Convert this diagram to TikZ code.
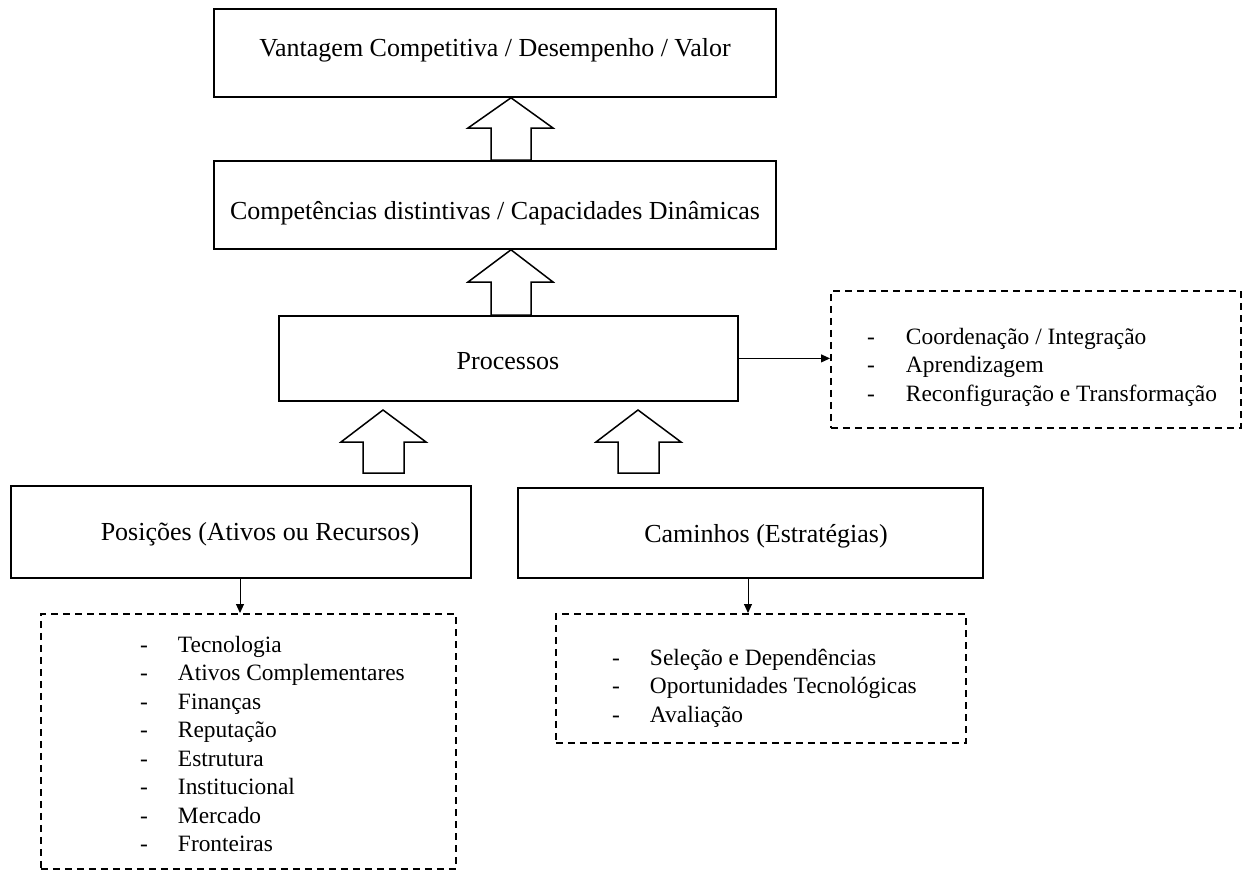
\documentclass[tikz,border=0pt]{standalone}
\usepackage{fontspec}
\setmainfont{Liberation Serif}
\usetikzlibrary{arrows.meta}
\begin{document}
\begin{tikzpicture}[x=1pt,y=-1pt,
  solidbox/.style={draw,line width=1.8pt,anchor=north west,inner sep=0pt},
  dashbox/.style={draw,line width=1.5pt,dash pattern=on 7pt off 5pt,anchor=north west,inner sep=0pt},
  maintext/.style={font=\fontsize{26}{30}\selectfont,anchor=base,inner sep=0pt},
  listtext/.style={font=\fontsize{23.4}{28.5}\selectfont,anchor=base west,inner sep=0pt},
  blockarrow/.style={draw,line width=1.5pt,fill=white,line join=miter},
  thinarrow/.style={draw,line width=1pt,-{Triangle[length=9pt,width=8pt]}}]
\useasboundingbox (0,0) rectangle (1245,871);

% solid boxes
\node[solidbox,minimum width=562pt,minimum height=88pt] (vant) at (213,8) {};
\node[solidbox,minimum width=562pt,minimum height=88pt] (comp) at (213,160) {};
\node[solidbox,minimum width=459pt,minimum height=85pt] (proc) at (278,315) {};
\node[solidbox,minimum width=460pt,minimum height=92pt] (posi) at (10,485) {};
\node[solidbox,minimum width=465pt,minimum height=90pt] (cami) at (517,487) {};

% texts in boxes
\node[maintext] (tvant) at (495,56) {Vantagem Competitiva / Desempenho / Valor};
\node[maintext] (tcomp) at (495,219) {Competências distintivas / Capacidades Dinâmicas};
\node[maintext] (tproc) at (508,369) {Processos};
\node[maintext] (tposi) at (260,540) {Posições (Ativos ou Recursos)};
\node[maintext] (tcami) at (766,542) {Caminhos (Estratégias)};

% dashed boxes
\node[dashbox,minimum width=415pt,minimum height=255pt] (dposi) at (40,613) {};
\node[dashbox,minimum width=410pt,minimum height=129pt] (dcami) at (555,613) {};
\node[dashbox,minimum width=410pt,minimum height=137pt] (dproc) at (830,290) {};

% lists
\node[listtext] (lposi) at (140,652) {\begin{tabular}[t]{@{}l@{\hspace{30pt}}l@{}}
- & Tecnologia\\
- & Ativos Complementares\\
- & Finanças\\
- & Reputação\\
- & Estrutura\\
- & Institucional\\
- & Mercado\\
- & Fronteiras
\end{tabular}};
\node[listtext] (lcami) at (612,665) {\begin{tabular}[t]{@{}l@{\hspace{30pt}}l@{}}
- & Seleção e Dependências\\
- & Oportunidades Tecnológicas\\
- & Avaliação
\end{tabular}};
\node[listtext] (lproc) at (867,344) {\begin{tabular}[t]{@{}l@{\hspace{31pt}}l@{}}
- & Coordenação / Integração\\
- & Aprendizagem\\
- & Reconfiguração e Transformação
\end{tabular}};

% block arrows
\draw[blockarrow] (vant.south -| 511,0) -- (553,128) -- (531,128) -- (531,160) -- (491,160) -- (491,128) -- (468,128) -- cycle;
\draw[blockarrow] (comp.south -| 511,0) -- (553,282) -- (531,282) -- (531,315) -- (491,315) -- (491,282) -- (468,282) -- cycle;
\draw[blockarrow] (383,410) -- (426,442) -- (404,442) -- (404,473) -- (363,473) -- (363,442) -- (341,442) -- cycle;
\draw[blockarrow] (638,410) -- (681,442) -- (659,442) -- (659,473) -- (618,473) -- (618,442) -- (596,442) -- cycle;

% thin arrows
\coordinate (a1) at (240,577);
\coordinate (a2) at (748,577);
\draw[thinarrow] (proc.east) -- (proc.east -| dproc.west);
\draw[thinarrow] (a1 |- posi.south) -- (a1 |- dposi.north);
\draw[thinarrow] (a2 |- cami.south) -- (a2 |- dcami.north);
\end{tikzpicture}
\end{document}
